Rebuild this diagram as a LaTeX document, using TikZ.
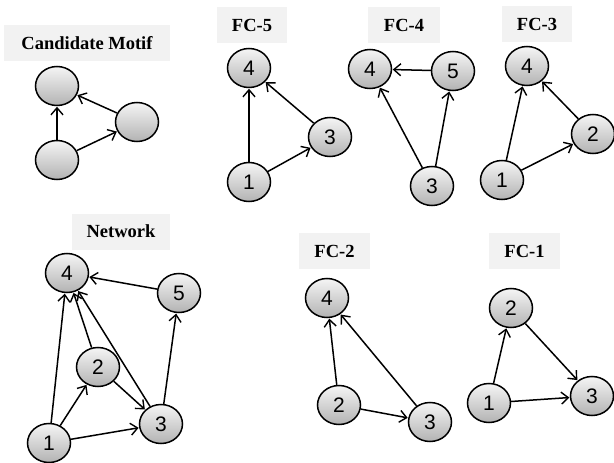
\documentclass[tikz,border=0pt]{standalone}
\usepackage{fontspec}
\setmainfont{Liberation Serif}
\newfontfamily\numfont{Liberation Sans}
\usetikzlibrary{shapes.geometric,arrows.meta}
\tikzset{
  vert/.style={ellipse, draw=black, line width=1.5pt, minimum width=43pt, minimum height=39pt,
    inner sep=0pt, top color=white!96!black, bottom color=black!30, font=\numfont\fontsize{21}{21}\selectfont},
  titlebox/.style={fill=black!5, minimum height=36pt, inner sep=0pt,
    font=\bfseries\fontsize{18.5}{18.5}\selectfont},
  edge/.style={line width=1.5pt, -{Straight Barb[length=7pt,width=12pt,line width=1.4pt]}, shorten >=0.5pt}
}
\begin{document}
\begin{tikzpicture}[x=1pt,y=-1pt]
\path[use as bounding box] (0,0) rectangle (614,463);

% Candidate motif
\node[titlebox, minimum width=166pt] (tcm) at (87,43) {Candidate Motif};
\node[vert] (ma) at (57,86) {};
\node[vert] (mb) at (137,122) {};
\node[vert] (mc) at (57,160) {};
\draw[edge] (mc) -- (ma);
\draw[edge] (mc) -- (mb);
\draw[edge] (mb) -- (ma);

% FC-5
\node[titlebox, minimum width=70pt] (t5) at (252,25) {FC-5};
\node[vert] (a4) at (249,68) {4};
\node[vert] (a3) at (330,137) {3};
\node[vert] (a1) at (249,182) {1};
\draw[edge] (a1) -- (a4);
\draw[edge] (a1) -- (a3);
\draw[edge] (a3) -- (a4);

% FC-4
\node[titlebox, minimum width=72pt] (t4) at (404,25) {FC-4};
\node[vert] (b4) at (370,69) {4};
\node[vert] (b5) at (453,71) {5};
\node[vert] (b3) at (432,186) {3};
\draw[edge] (b5) -- (b4);
\draw[edge] (b3) -- (b4);
\draw[edge] (b3) -- (b5);

% FC-3
\node[titlebox, minimum width=70pt] (t3) at (537,24) {FC-3};
\node[vert] (c4) at (527,66) {4};
\node[vert] (c2) at (593,134) {2};
\node[vert] (c1) at (502,180) {1};
\draw[edge] (c1) -- (c4);
\draw[edge] (c1) -- (c2);
\draw[edge] (c2) -- (c4);

% Network
\node[titlebox, minimum width=98pt] (tn) at (121,231.5) {Network};
\node[vert] (n4) at (67,273) {4};
\node[vert] (n5) at (179,293) {5};
\node[vert] (n2) at (98,367) {2};
\node[vert] (n3) at (161,424) {3};
\node[vert] (n1) at (49,443) {1};
\draw[edge] (n1) -- (n4);
\draw[edge] (n1) -- (n2);
\draw[edge] (n1) -- (n3);
\draw[edge] (n2) -- (n4);
\draw[edge] (n2) -- (n3);
\draw[edge] (n3) -- (n4);
\draw[edge] (n3) -- (n5);
\draw[edge] (n5) -- (n4);

% FC-2
\node[titlebox, minimum width=71pt] (t2) at (334.5,251) {FC-2};
\node[vert] (d4) at (327,298) {4};
\node[vert] (d2) at (339,405) {2};
\node[vert] (d3) at (430,422) {3};
\draw[edge] (d2) -- (d4);
\draw[edge] (d2) -- (d3);
\draw[edge] (d3) -- (d4);

% FC-1
\node[titlebox, minimum width=71pt] (t1) at (524.5,251) {FC-1};
\node[vert] (e2) at (511,308) {2};
\node[vert] (e1) at (489,403) {1};
\node[vert] (e3) at (592,396) {3};
\draw[edge] (e1) -- (e2);
\draw[edge] (e1) -- (e3);
\draw[edge] (e2) -- (e3);
\end{tikzpicture}
\end{document}
